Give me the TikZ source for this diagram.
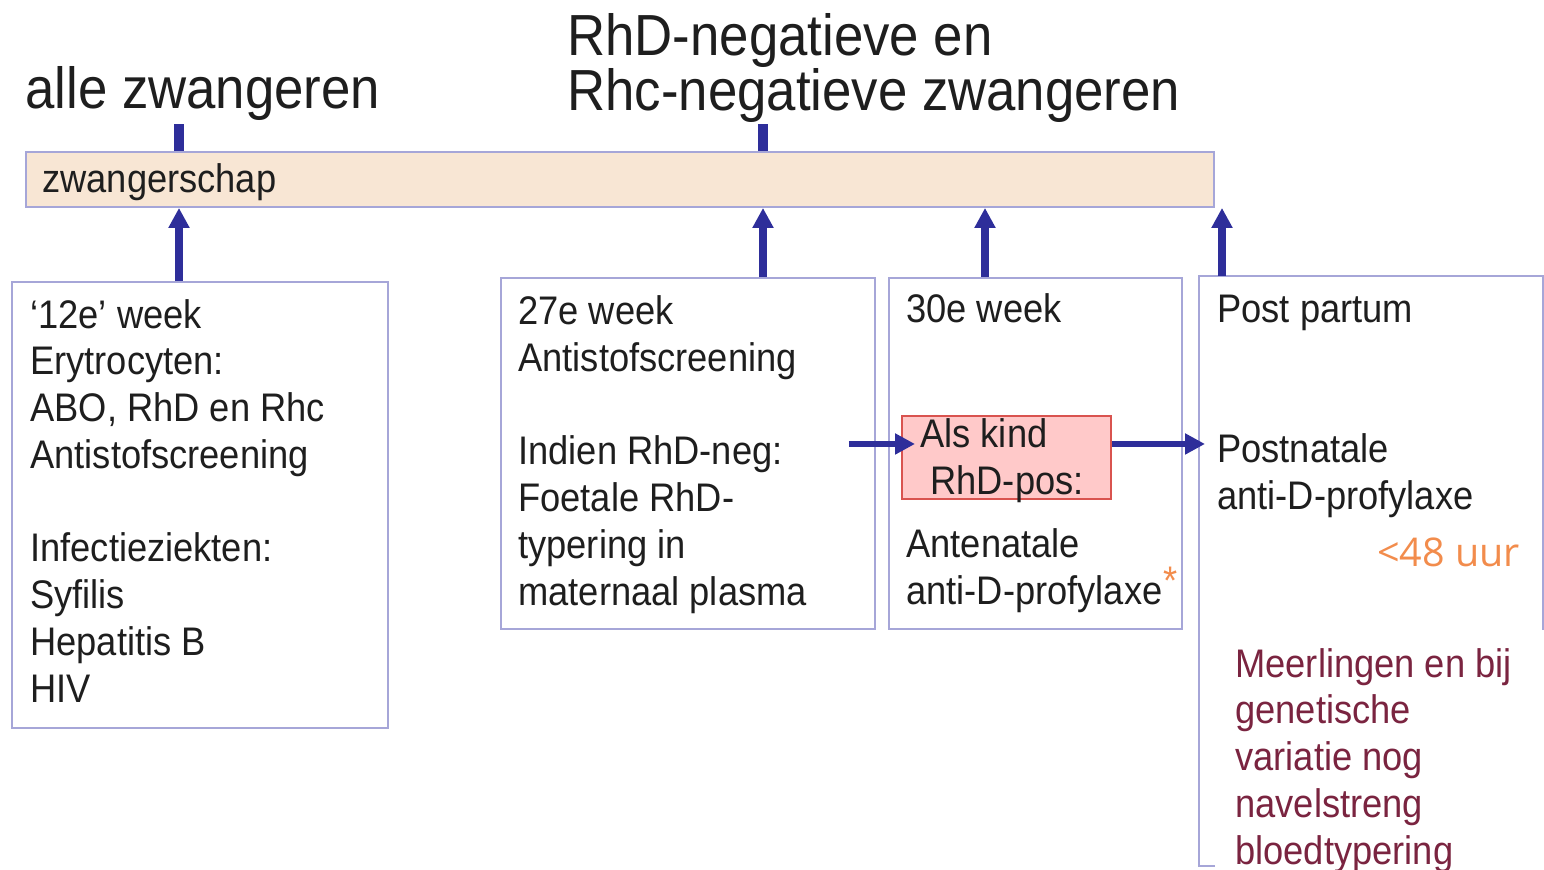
\documentclass[tikz,border=0pt]{standalone}
\usepackage{fontspec}
\setmainfont[FakeStretch=0.91]{Liberation Sans}
\newfontfamily\uurfont{Open Sans}
\usetikzlibrary{calc, positioning}
\usetikzlibrary{arrows.meta}
\def\lw{4.5pt}
\def\u{0.02cm}
\definecolor{pinblue}{HTML}{2E2E9A}
\definecolor{boxline}{HTML}{A6A6D8}
\definecolor{barfill}{HTML}{F8E6D4}
\definecolor{redfill}{HTML}{FFC9C9}
\definecolor{redline}{HTML}{D9534F}
\definecolor{textgray}{HTML}{1E1E1E}
\definecolor{ambertext}{HTML}{F28C4C}
\definecolor{maroontext}{HTML}{7A2440}
\tikzset{
    panel/.style = {
        draw=boxline, line width=1.1pt, anchor=north west
    },
    bar/.style = {
        panel, fill=barfill
    },
    redbox/.style = {
        draw=redline, fill=redfill, line width=1.1pt, anchor=north west
    },
    boxtext/.style = {
        anchor=base west, align=left, text=textgray
    },
    title/.style = {
        boxtext, font=\fontsize{33}{31.2}\selectfont
    }
    }

\begin{document}
\begin{tikzpicture}[x=\u, y=-\u, every node/.style={inner sep=0pt, font=\fontsize{22.7}{26.6}\selectfont}]
        \useasboundingbox (0,0) rectangle (1544,869);
        \node[title] (alle) at (25,108) {alle zwangeren};
        \node[title] (rhneg) at (567,110) {RhD-negatieve en\\Rhc-negatieve zwangeren};
        \node[bar, minimum width=1188*\u, minimum height=55*\u] (bar) at (25,151) {};
        \node[boxtext] (barlabel) at (42,192) {zwangerschap};
        \node[panel, minimum width=376*\u, minimum height=446*\u] (week12) at (11,281) {};
        \node[panel, minimum width=374*\u, minimum height=351*\u] (week27) at (500,277) {};
        \node[panel, minimum width=293*\u, minimum height=351*\u] (week30) at (888,277) {};
        \node[anchor=north west, minimum width=343*\u, minimum height=589*\u] (postpartum) at (1199,276) {};
        \draw[boxline, line width=1.1pt] ([xshift=16*\u]postpartum.south west) -- (postpartum.south west) -- (postpartum.north west) -- (postpartum.north east) -- ([yshift=-354*\u]postpartum.north east);
        \node[redbox, minimum width=209*\u, minimum height=83*\u] (rhdpos) at (901,415) {};
        \node[boxtext] (t12) at (30,702) {‘12e’ week\\Erytrocyten:\\ABO, RhD en Rhc\\Antistofscreening\\[26.6pt]Infectieziekten:\\Syfilis\\Hepatitis B\\HIV};
        \node[boxtext] (t27) at (518,605) {27e week\\Antistofscreening\\[26.6pt]Indien RhD-neg:\\Foetale RhD-\\typering in\\maternaal plasma};
        \node[boxtext] (t30) at (906,322) {30e week};
        \node[boxtext] (tpos) at (920,494) {Als kind\\\hspace{0.2cm}RhD-pos:};
        \node[boxtext] (tante) at (906,604) {Antenatale\\anti-D-profylaxe};
        \node[text=ambertext, anchor=base] (star) at (1171,594) {*};
        \node[boxtext] (tpp) at (1217,322) {Post partum};
        \node[boxtext] (tpost) at (1217,509) {Postnatale\\anti-D-profylaxe};
        \node[anchor=base west, text=ambertext, font=\uurfont\fontsize{22.5}{27}\selectfont] (uur) at (1377,566) {<48 uur};
        \node[boxtext, text=maroontext] (meer) at (1235,864) {Meerlingen en bij\\genetische\\variatie nog\\navelstreng\\bloedtypering};
        \coordinate (pin12) at (179,124);
        \coordinate (pin27) at (763,124);
        \coordinate (pin30) at (985,0);
        \coordinate (pinpp) at (1222,0);
        \draw[pinblue, line width=5.5pt] (bar.north -| pin12) -- (pin12);
        \draw[pinblue, line width=5.5pt] (bar.north -| pin27) -- (pin27);
        \begin{scope}[pinblue, line width = \lw, >={Triangle[width=4mm,length=4mm]}, ->]
            \draw (week12.north -| pin12) -- (bar.south -| pin12);
            \draw (week27.north -| pin27) -- (bar.south -| pin27);
            \draw (week30.north -| pin30) -- (bar.south -| pin30);
            \draw (postpartum.north -| pinpp) -- (bar.south -| pinpp);
            \draw[line width=3.6pt] ([xshift=-27*\u, yshift=13.5*\u]week27.east |- rhdpos.west) -- ([xshift=14*\u, yshift=13.5*\u]rhdpos.west);
            \draw[line width=3.6pt] ([yshift=13.5*\u]rhdpos.east) -- ([xshift=6*\u, yshift=13.5*\u]postpartum.west |- rhdpos.east);
        \end{scope}
    \end{tikzpicture}
\end{document}
